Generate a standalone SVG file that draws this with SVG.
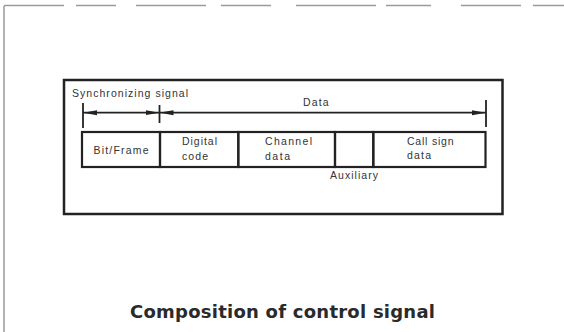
<svg xmlns="http://www.w3.org/2000/svg" width="564" height="332" viewBox="0 0 564 332">
  <style>
    .frame { fill: none; stroke: #9a9a9a; stroke-width: 1.5; }
    .box { fill: none; stroke: #222; stroke-width: 2.5; }
    .cell { fill: none; stroke: #222; stroke-width: 2.2; }
    .lbl { font-family: "Liberation Sans", Arial, sans-serif; font-size: 10.5px; fill: #333; }
    .title { font-family: "DejaVu Sans", "Liberation Sans", sans-serif; font-size: 18px; font-weight: bold; fill: #2a2a2a; }
    .dim { stroke: #222; stroke-width: 1.8; fill: none; }
    .tick { stroke: #222; stroke-width: 1.8; }
  </style>
  <defs>
    <marker id="ah" viewBox="0 0 14 6" refX="14" refY="3" markerWidth="14" markerHeight="6" markerUnits="userSpaceOnUse" orient="auto-start-reverse">
      <path d="M0,0.5 L14,3 L0,5.5 z" fill="#222"/>
    </marker>
  </defs>
  <rect width="564" height="332" fill="#fff"/>

  <!-- page frame -->
  <g id="page-frame">
    <line class="frame" x1="4" y1="6" x2="4" y2="332"/>
    <line class="frame" x1="4" y1="5.5" x2="564" y2="5.5" stroke-dasharray="60 12 40 20 70 15 50 25 80 10 45 30"/>
  </g>

  <!-- outer box -->
  <g id="outer-box">
    <rect class="box" x="64" y="80" width="438.5" height="134"/>
  </g>

  <!-- dimension labels -->
  <g id="sync-label">
    <text class="lbl" x="72" y="97" textLength="116" lengthAdjust="spacing">Synchronizing signal</text>
  </g>
  <g id="data-label">
    <text class="lbl" x="303" y="106" textLength="25.5" lengthAdjust="spacing">Data</text>
  </g>

  <!-- signal bar cells -->
  <g id="cell-bitframe">
    <rect class="cell" x="82" y="132" width="78" height="35"/>
    <text class="lbl" x="121" y="154" text-anchor="middle" textLength="55" lengthAdjust="spacing">Bit/Frame</text>
  </g>
  <g id="cell-digital">
    <rect class="cell" x="160" y="132" width="78.3" height="35"/>
    <text class="lbl" x="182" y="145" textLength="35" lengthAdjust="spacing">Digital</text>
    <text class="lbl" x="182" y="160" textLength="26" lengthAdjust="spacing">code</text>
  </g>
  <g id="cell-channel">
    <rect class="cell" x="238.3" y="132" width="96.7" height="35"/>
    <text class="lbl" x="265" y="145" textLength="47" lengthAdjust="spacing">Channel</text>
    <text class="lbl" x="265" y="160" textLength="25" lengthAdjust="spacing">data</text>
  </g>
  <g id="cell-auxiliary">
    <rect class="cell" x="335" y="132" width="38.3" height="35"/>
    <text class="lbl" x="330" y="178.5" textLength="48" lengthAdjust="spacing">Auxiliary</text>
  </g>
  <g id="cell-callsign">
    <rect class="cell" x="373.3" y="132" width="112.2" height="35"/>
    <text class="lbl" x="407" y="144.5" textLength="46.5" lengthAdjust="spacing">Call sign</text>
    <text class="lbl" x="407" y="158.5" textLength="24" lengthAdjust="spacing">data</text>
  </g>

  <!-- connectors: dimension lines -->
  <g id="connectors">
    <line class="tick" x1="83" y1="103" x2="83" y2="128"/>
    <line class="tick" x1="159.5" y1="105" x2="159.5" y2="123"/>
    <line class="tick" x1="486" y1="100" x2="486" y2="127"/>
    <line class="dim" x1="83" y1="112.7" x2="159.5" y2="112.7" marker-start="url(#ah)" marker-end="url(#ah)"/>
    <line class="dim" x1="159.5" y1="112.7" x2="486" y2="112.7" marker-start="url(#ah)" marker-end="url(#ah)"/>
  </g>

  <!-- title -->
  <g id="title">
    <text class="title" x="130" y="318" textLength="305" lengthAdjust="spacing">Composition of control signal</text>
  </g>
</svg>
